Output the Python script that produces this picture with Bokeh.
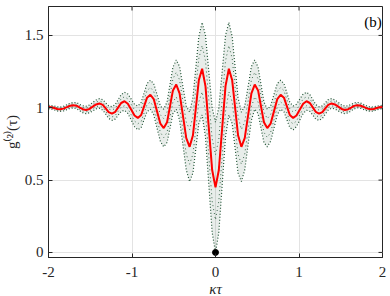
from bokeh.plotting import figure
from bokeh.models import Range1d, FixedTicker, Label, ColumnDataSource
from bokeh.embed import file_html
from bokeh.resources import INLINE

# ---- data ----
tau = [-2.0, -1.965, -1.93, -1.895, -1.86, -1.82, -1.78, -1.74, -1.70, -1.66, -1.625, -1.59,
       -1.55, -1.51, -1.47, -1.43, -1.39, -1.35, -1.315, -1.28, -1.24, -1.20, -1.165, -1.13,
       -1.09, -1.05, -1.01, -0.97, -0.93, -0.89, -0.855, -0.82, -0.78, -0.74, -0.70, -0.66,
       -0.62, -0.58, -0.545, -0.51, -0.47, -0.43, -0.39, -0.35, -0.31, -0.27, -0.235, -0.20,
       -0.16, -0.12, -0.08, -0.04,
       0.0,
       0.04, 0.08, 0.12, 0.16, 0.20, 0.235, 0.27, 0.31, 0.35, 0.39, 0.43, 0.47, 0.51, 0.545,
       0.58, 0.62, 0.66, 0.70, 0.74, 0.78, 0.82, 0.855, 0.89, 0.93, 0.97, 1.01, 1.05, 1.09,
       1.13, 1.165, 1.20, 1.24, 1.28, 1.315, 1.35, 1.39, 1.43, 1.47, 1.51, 1.55, 1.59, 1.625,
       1.66, 1.70, 1.74, 1.78, 1.82, 1.86, 1.895, 1.93, 1.965, 2.0]

g2_avg = [1.005, 1.003, 0.998, 0.992, 0.99, 0.994, 1.004, 1.014, 1.018, 1.013, 1.001, 0.99,
          0.985, 0.992, 1.008, 1.023, 1.03, 1.02, 0.995, 0.97, 0.96, 0.972, 1.003, 1.033,
          1.045, 1.028, 0.988, 0.947, 0.93, 0.95, 1.01, 1.07, 1.09, 1.06, 0.975, 0.89,
          0.86, 0.90, 1.01, 1.12, 1.16, 1.10, 0.945, 0.79, 0.73, 0.81, 1.00, 1.19,
          1.27, 1.15, 0.86, 0.57,
          0.45,
          0.57, 0.86, 1.15, 1.27, 1.19, 1.00, 0.81, 0.73, 0.79, 0.945, 1.10, 1.16, 1.12, 1.01,
          0.90, 0.86, 0.89, 0.975, 1.06, 1.09, 1.07, 1.01, 0.95, 0.93, 0.947, 0.988, 1.028, 1.045,
          1.033, 1.003, 0.972, 0.96, 0.97, 0.995, 1.02, 1.03, 1.023, 1.008, 0.992, 0.985, 0.99, 1.001,
          1.013, 1.018, 1.014, 1.004, 0.994, 0.99, 0.992, 0.998, 1.003, 1.005]

# half-width of the fast (dotted) oscillation around the averaged curve
g2_fast_amp = [0.012, 0.012, 0.013, 0.014, 0.015, 0.016, 0.017, 0.018, 0.019, 0.021, 0.022, 0.024,
               0.026, 0.027, 0.029, 0.031, 0.033, 0.036, 0.039, 0.043, 0.047, 0.05, 0.054, 0.058,
               0.062, 0.067, 0.072, 0.077, 0.082, 0.087, 0.092, 0.097, 0.10, 0.107, 0.116, 0.122,
               0.13, 0.14, 0.15, 0.16, 0.17, 0.185, 0.20, 0.22, 0.24, 0.26, 0.28, 0.30,
               0.32, 0.35, 0.39, 0.43,
               0.45,
               0.43, 0.39, 0.35, 0.32, 0.30, 0.28, 0.26, 0.24, 0.22, 0.20, 0.185, 0.17, 0.16, 0.15,
               0.14, 0.13, 0.122, 0.116, 0.107, 0.10, 0.097, 0.092, 0.087, 0.082, 0.077, 0.072, 0.067, 0.062,
               0.058, 0.054, 0.05, 0.047, 0.043, 0.039, 0.036, 0.033, 0.031, 0.029, 0.027, 0.026, 0.024, 0.022,
               0.021, 0.019, 0.018, 0.017, 0.016, 0.015, 0.014, 0.013, 0.012, 0.012]

dot_x = [0.0]
dot_y = [0.0]

x_ticks = [-2, -1, 0, 1, 2]
x_tick_labels = ["-2", "-1", "0", "1", "2"]
y_ticks = [0, 0.5, 1, 1.5]
y_tick_labels = ["0", "0.5", "1", "1.5"]
panel_label = "(b)"
x_label = "κτ"
y_label = "g⁽²⁾(τ)"

# ---- styling ----
FONT = "Liberation Serif"
AX = "#262626"
GREEN = "#1e5233"
RED = "#ff0000"

upper = [m + a for m, a in zip(g2_avg, g2_fast_amp)]
lower = [m - a for m, a in zip(g2_avg, g2_fast_amp)]
src = ColumnDataSource(dict(x=tau, m=g2_avg, up=upper, lo=lower))
fracs = [0.0, 0.25, 0.5, 0.75, 1.0]
for k, f in enumerate(fracs):
    src.data[f"b{k}"] = [l + f * (u - l) for l, u in zip(lower, upper)]

xr = Range1d(-2, 2)
yr = Range1d(-0.035, 1.7)
p = figure(frame_width=334, frame_height=251, output_backend="svg", toolbar_location=None,
           x_range=xr, y_range=yr,
           min_border_left=42, min_border_right=6, min_border_top=6, min_border_bottom=30)
p.background_fill_color = "white"
p.border_fill_color = "white"
p.outline_line_color = AX
p.outline_line_width = 1

for ax in (p.xaxis[0], p.yaxis[0]):
    ax.axis_line_color = AX
    ax.major_tick_line_color = AX
    ax.major_tick_in = 4
    ax.major_tick_out = 0
    ax.minor_tick_line_color = None
    ax.major_label_text_font = FONT
    ax.major_label_text_font_size = "15px"
    ax.major_label_text_color = AX
    ax.axis_label_text_font = FONT
    ax.axis_label_text_font_size = "15px"
    ax.axis_label_text_color = AX
    ax.axis_label_text_font_style = "normal"

p.xaxis[0].ticker = FixedTicker(ticks=x_ticks)
p.xaxis[0].major_label_overrides = dict(zip(x_ticks, x_tick_labels))
p.xaxis[0].axis_label = x_label
p.xaxis[0].axis_label_text_font_style = "italic"
p.xaxis[0].major_label_standoff = 9
p.xaxis[0].axis_label_standoff = 1

p.yaxis[0].ticker = FixedTicker(ticks=y_ticks)
p.yaxis[0].major_label_overrides = dict(zip(y_ticks, y_tick_labels))
p.yaxis[0].axis_label = y_label
p.yaxis[0].major_label_standoff = 5
p.yaxis[0].axis_label_standoff = 2

p.xgrid.ticker = FixedTicker(ticks=x_ticks)
p.ygrid.ticker = FixedTicker(ticks=y_ticks)
p.grid.grid_line_color = "#e3e3e3"
p.grid.grid_line_width = 1

# inward tick marks on the top and right frame edges (box style)
p.ray(x=x_ticks, y=[yr.end] * len(x_ticks), length=4, length_units="screen",
      angle=-90, angle_units="deg", line_color=AX, line_width=1)
p.ray(x=[xr.end] * len(y_ticks), y=y_ticks, length=4, length_units="screen",
      angle=180, angle_units="deg", line_color=AX, line_width=1)

# fast oscillation band (dotted)
p.varea(x="x", y1="lo", y2="up", source=src, fill_color=GREEN, fill_alpha=0.1)
for k, f in enumerate(fracs):
    edge = f in (0.0, 1.0)
    p.line(x="x", y=f"b{k}", source=src, line_color=GREEN,
           line_width=1.2 if edge else 1, line_alpha=1.0 if edge else 0.85,
           line_dash="1 2" if edge else "1 3")

# averaged curve
p.line(x="x", y="m", source=src, line_color=RED, line_width=2)

p.scatter(x=dot_x, y=dot_y, size=6, color="black")

p.add_layout(Label(x=1.99, y=1.645, text=panel_label, text_align="right",
                   text_baseline="top", text_font=FONT, text_font_size="15px",
                   text_color="black"))

open("out.html", "w").write(file_html(p, INLINE))
